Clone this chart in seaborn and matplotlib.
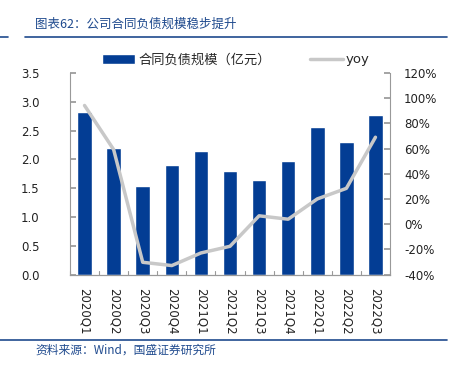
import matplotlib
matplotlib.use("Agg")
import matplotlib.pyplot as plt
import seaborn as sns
import pandas as pd
from matplotlib.ticker import FuncFormatter, MultipleLocator

quarters = ["2020Q1", "2020Q2", "2020Q3", "2020Q4", "2021Q1", "2021Q2",
            "2021Q3", "2021Q4", "2022Q1", "2022Q2", "2022Q3"]
liability = [2.82, 2.19, 1.54, 1.90, 2.15, 1.80, 1.64, 1.98, 2.57, 2.31, 2.77]
yoy = [94.2, 59.2, -30.3, -32.9, -22.9, -17.6, 6.6, 3.9, 20.0, 28.4, 69.0]

bar_label = "合同负债规模（亿元）"
line_label = "yoy"
title_text = "图表62：公司合同负债规模稳步提升"
source_text = "资料来源：Wind，国盛证券研究所"

df = pd.DataFrame({"quarter": quarters, "liability": liability, "yoy": yoy})

sns.set_theme(style="white")
plt.rcParams['font.family'] = ['DejaVu Sans', 'Noto Sans CJK SC']

BLUE = "#033D94"
GREY = "#C8C8C8"
SPINE = "#999999"
TXT_BLUE = "#1F4A8E"

fig = plt.figure(figsize=(4.54, 3.66), dpi=100)
ax = fig.add_axes([70 / 454, 1 - 274.5 / 366, 320 / 454, 201.5 / 366])

sns.barplot(data=df, x="quarter", y="liability", color=BLUE, width=0.5,
            saturation=1, ax=ax, label=bar_label)
ax.set_ylim(0, 3.5)
ax.set_xlim(-0.5, len(quarters) - 0.5)
ax.yaxis.set_major_locator(MultipleLocator(0.5))
ax.yaxis.set_major_formatter(FuncFormatter(lambda v, p: f"{v:.1f}"))
ax.set_xlabel("")
ax.set_ylabel("")

ax2 = ax.twinx()
sns.lineplot(x=list(range(len(quarters))), y=yoy, color=GREY, linewidth=2.5,
             ax=ax2, label=line_label, legend=False)
ax2.set_ylim(-40, 120)
ax2.yaxis.set_major_locator(MultipleLocator(20))
ax2.yaxis.set_major_formatter(FuncFormatter(lambda v, p: f"{v:.0f}%"))

h1, l1 = ax.get_legend_handles_labels()
h2, l2 = ax2.get_legend_handles_labels()
for a in (ax, ax2):
    if a.get_legend() is not None:
        a.get_legend().remove()

for a in (ax, ax2):
    a.spines["top"].set_visible(False)
    for side in ("left", "right", "bottom"):
        a.spines[side].set_color(SPINE)
        a.spines[side].set_linewidth(0.8)
ax.spines["right"].set_visible(False)
ax2.spines["left"].set_visible(False)

ax.tick_params(axis="y", direction="in", length=4, color=SPINE, labelsize=8.5,
               left=True, pad=22, labelcolor="#222222")
ax2.tick_params(axis="y", direction="in", length=4, color=SPINE, labelsize=8.5,
                right=True, pad=10, labelcolor="#222222")
ax.set_xticks(range(len(quarters)))
ax.set_xticklabels(quarters, rotation=270, fontsize=8.5, color="#222222")
ax.tick_params(axis="x", bottom=False, pad=4)
# small boundary ticks on the category axis
for i in range(len(quarters) + 1):
    ax.plot([i - 0.5, i - 0.5], [0, 0.06], color=SPINE, lw=0.8, clip_on=False)

fig.legend(h1 + h2, l1 + l2, loc="center", bbox_to_anchor=(0.52, 1 - 60 / 366),
           ncol=2, frameon=False, handlelength=2.5, handleheight=0.75,
           columnspacing=2.9, handletextpad=0.25,
           prop={"family": ["DejaVu Sans", "Noto Sans CJK SC"], "size": 9.5})

fig.text(35 / 454, 1 - 24 / 366, title_text, color=TXT_BLUE, fontsize=9,
         style="italic", va="center", family=["Noto Sans CJK SC", "DejaVu Sans"])
fig.add_artist(plt.Line2D([0, 8 / 454], [1 - 37 / 366] * 2, color=TXT_BLUE, lw=1.2))
fig.add_artist(plt.Line2D([25 / 454, 447 / 454], [1 - 37 / 366] * 2, color=TXT_BLUE, lw=1.2))
fig.add_artist(plt.Line2D([0, 447 / 454], [1 - 340 / 366] * 2, color=TXT_BLUE, lw=1.2))
fig.text(35 / 454, 1 - 350 / 366, source_text, color=TXT_BLUE, fontsize=8.5,
         style="italic", va="center", family=["Noto Sans CJK SC", "DejaVu Sans"])

fig.savefig("out.png", dpi=100)
